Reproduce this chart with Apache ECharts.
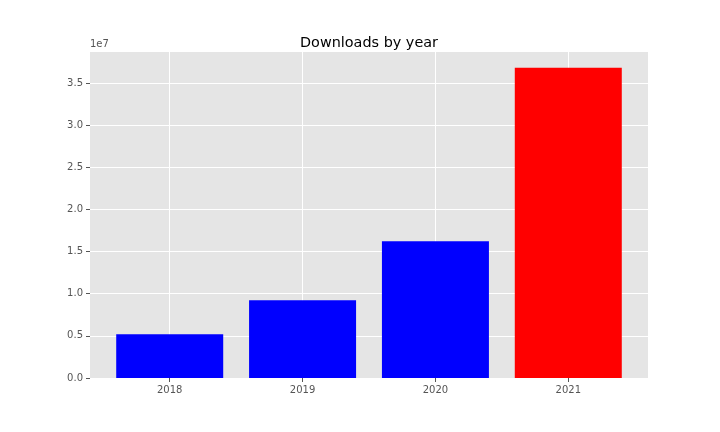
<!DOCTYPE html>
<html>
<head>
<meta charset="utf-8">
<script src="https://cdn.jsdelivr.net/npm/echarts@6/dist/echarts.min.js"></script>
<style>
  html, body { margin: 0; padding: 0; background: #fff; }
  #main { width: 720px; height: 432px; }
</style>
</head>
<body>
<div id="main"></div>
<script>
// data
var years = ['2018', '2019', '2020', '2021'];
var downloads = [5200000, 9230000, 16230000, 36800000];
var barColors = ['#0000ff', '#0000ff', '#0000ff', '#ff0000'];
var yTicks = [0, 5000000, 10000000, 15000000, 20000000, 25000000, 30000000, 35000000];

var chart = echarts.init(document.getElementById('main'), null, { renderer: 'canvas' });

var barData = [];
for (var i = 0; i < years.length; i++) {
    barData.push({ value: [i, downloads[i]], itemStyle: { color: barColors[i] } });
}

var option = {
    backgroundColor: '#ffffff',
    animation: false,
    title: {
        text: 'Downloads by year',
        left: 364,
        top: 31,
        textAlign: 'center',
        textStyle: { fontFamily: 'DejaVu Sans', fontSize: 14.4, fontWeight: 'normal', color: '#000' }
    },
    graphic: [{
        type: 'text',
        left: 90,
        top: 39,
        style: { text: '1e7', font: '10px "DejaVu Sans"', fill: '#555555' }
    }],
    grid: {
        left: 90, right: 72, top: 52, bottom: 54,
        show: true,
        backgroundColor: '#e5e5e5',
        borderWidth: 0
    },
    xAxis: {
        type: 'value',
        min: -0.6,
        max: 3.6,
        axisLine: { show: false, onZero: false },
        axisTick: {
            show: true, length: 4, customValues: [0, 1, 2, 3],
            lineStyle: { color: '#555555', width: 1 }
        },
        axisLabel: {
            customValues: [0, 1, 2, 3],
            margin: 7,
            fontFamily: 'DejaVu Sans', fontSize: 10, color: '#555555',
            formatter: function (v) { return years[Math.round(v)]; }
        },
        splitLine: { show: true, lineStyle: { color: '#ffffff', width: 1 } }
    },
    yAxis: {
        type: 'value',
        min: 0,
        max: 38680000,
        axisLine: { show: false, onZero: false },
        axisTick: {
            show: true, length: 4, customValues: yTicks,
            lineStyle: { color: '#555555', width: 1 }
        },
        axisLabel: {
            customValues: yTicks,
            margin: 7,
            fontFamily: 'DejaVu Sans', fontSize: 10, color: '#555555',
            formatter: function (v) { return (v / 1e7).toFixed(1); }
        },
        splitLine: { show: true, lineStyle: { color: '#ffffff', width: 1 } }
    },
    series: [{
        type: 'bar',
        barWidth: 107,
        data: barData
    }]
};
chart.setOption(option);
</script>
</body>
</html>
